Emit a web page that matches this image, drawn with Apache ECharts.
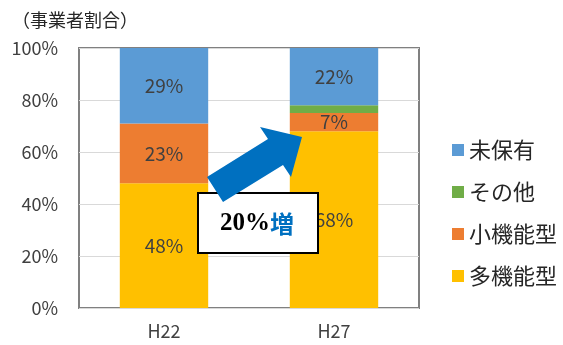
<!DOCTYPE html>
<html>
<head>
<meta charset="utf-8">
<script src="https://cdn.jsdelivr.net/npm/echarts@6/dist/echarts.min.js"></script>
<style>
html,body{margin:0;padding:0;background:#fff;}
#main{width:563px;height:345px;}
</style>
</head>
<body>
<div id="main"></div>
<script>
// Data
const categories = ['H22', 'H27'];
const seriesNames = ['多機能型', '小機能型', 'その他', '未保有'];
const multiFunc = [48, 68];
const smallFunc = [23, 7];
const other = [0, 3];
const none = [29, 22];
const legendOrder = ['未保有', 'その他', '小機能型', '多機能型'];
const yTicks = [0, 20, 40, 60, 80, 100];
const titleText = '（事業者割合）';
const calloutPct = '20%';
const calloutWord = '増';

const colors = {
  '多機能型': '#FFC000',
  '小機能型': '#ED7D31',
  'その他': '#70AD47',
  '未保有': '#5B9BD5'
};
const valuesByName = {
  '多機能型': multiFunc,
  '小機能型': smallFunc,
  'その他': other,
  '未保有': none
};

const FONT = '"Noto Sans CJK JP", "Noto Sans", sans-serif';
const chart = echarts.init(document.getElementById('main'), null, {renderer: 'canvas'});

const series = seriesNames.map(function (name) {
  return {
    name: name,
    type: 'bar',
    stack: 'total',
    barWidth: '52%',
    data: valuesByName[name],
    itemStyle: {color: colors[name]},
    label: {
      show: name !== 'その他',
      position: 'inside',
      formatter: '{c}%',
      color: '#404040',
      fontSize: 19,
      fontFamily: FONT
    },
    emphasis: {disabled: true}
  };
});

chart.setOption({
  animation: false,
  title: {
    text: titleText,
    left: 7,
    top: 6,
    textStyle: {fontSize: 18, fontWeight: 'normal', color: '#262626', fontFamily: FONT}
  },
  grid: {
    left: 79, top: 48, width: 340, height: 260,
    show: true, borderColor: '#808080', borderWidth: 2,
    containLabel: false
  },
  legend: {
    data: legendOrder,
    orient: 'vertical',
    left: 447,
    top: 134,
    icon: 'rect',
    itemWidth: 12,
    itemHeight: 12,
    itemGap: 20,
    textStyle: {fontSize: 22, color: '#262626', fontFamily: FONT}
  },
  xAxis: {
    type: 'category',
    data: categories,
    axisLine: {show: false},
    axisTick: {show: false},
    axisLabel: {margin: 14, fontSize: 18, color: '#404040', fontFamily: FONT}
  },
  yAxis: {
    type: 'value',
    min: yTicks[0],
    max: yTicks[yTicks.length - 1],
    interval: yTicks[1] - yTicks[0],
    axisLine: {show: false},
    axisTick: {show: false},
    splitLine: {lineStyle: {color: '#d9d9d9', width: 1}},
    axisLabel: {formatter: '{value}%', margin: 21, fontSize: 18, color: '#404040', fontFamily: FONT}
  },
  series: series,
  graphic: [
    {
      type: 'rect',
      z: 100,
      shape: {x: 198, y: 193, width: 120, height: 60},
      style: {fill: '#fff', stroke: '#000', lineWidth: 2}
    },
    {
      type: 'text',
      z: 101,
      x: 257,
      y: 224,
      style: {
        text: '{a|' + calloutPct + '}{b|' + calloutWord + '}',
        align: 'center',
        verticalAlign: 'middle',
        rich: {
          a: {fontSize: 25, fontWeight: 'bold', fontFamily: '"Liberation Serif", "DejaVu Serif", serif', fill: '#000', color: '#000'},
          b: {fontSize: 24, fontWeight: 'bold', fontFamily: FONT, fill: '#0070C0', color: '#0070C0'}
        }
      }
    },
    {
      type: 'polygon',
      z: 102,
      shape: {points: [[207,177],[268,139],[260,127],[302,137],[291,177],[283,165],[223,202]]},
      style: {fill: '#0070C0'}
    }
  ]
});
</script>
</body>
</html>
